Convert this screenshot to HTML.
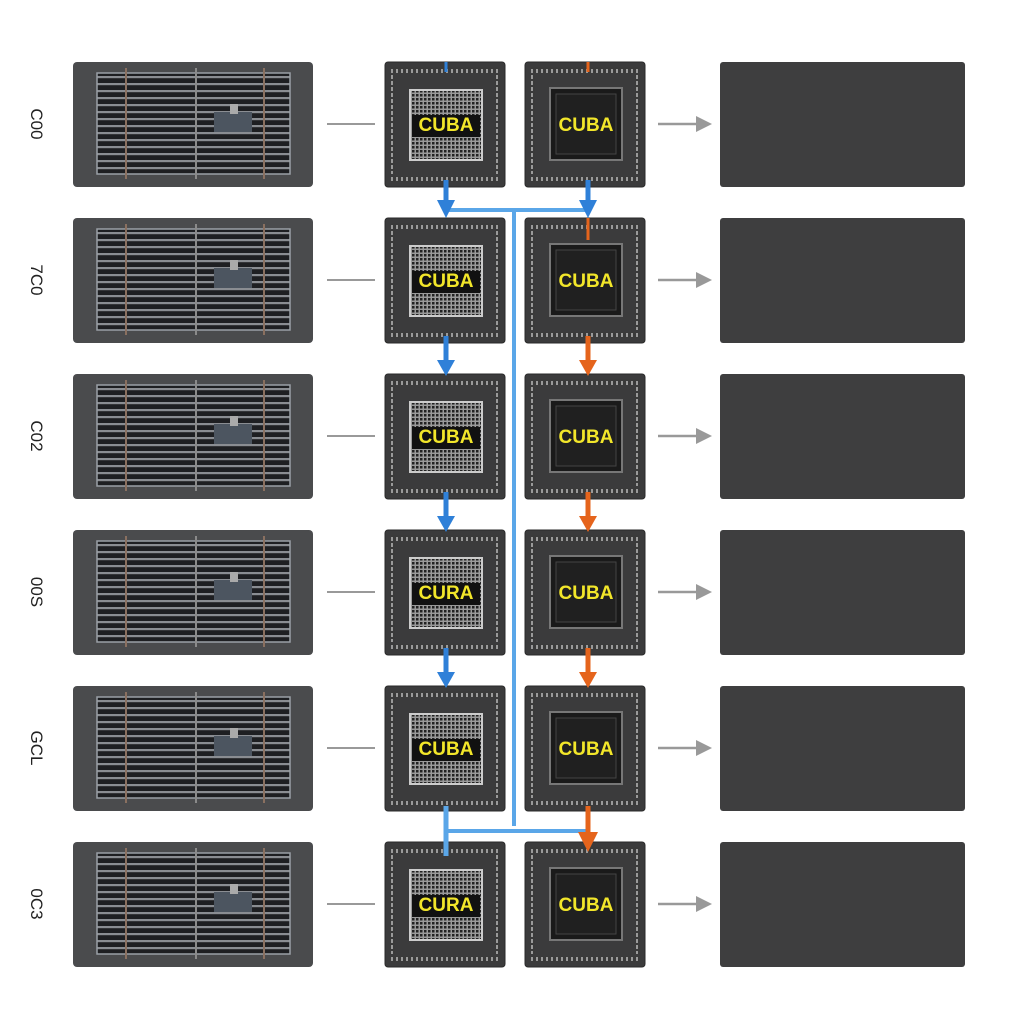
<!DOCTYPE html>
<html><head><meta charset="utf-8"><style>
html,body{margin:0;padding:0;background:#fff;}
svg{display:block}
.lbl{font-family:"Liberation Sans",sans-serif;font-size:17px;fill:#222;}
.cu{font-family:"Liberation Sans",sans-serif;font-weight:bold;font-size:19px;fill:#f2e62a;}
</style></head><body>
<svg width="1024" height="1024" viewBox="0 0 1024 1024" xmlns="http://www.w3.org/2000/svg">
<defs>
  <pattern id="grate" x="0" y="0" width="10" height="7" patternUnits="userSpaceOnUse">
    <rect width="10" height="7" fill="#1e1f22"/>
    <rect y="0" width="10" height="2.2" fill="#8a8d92"/>
  </pattern>
  <pattern id="mesh" x="0" y="0" width="4" height="4" patternUnits="userSpaceOnUse">
    <rect width="4" height="4" fill="#9a9a9a"/>
    <rect width="2.5" height="2.5" fill="#222"/>
  </pattern>
  <pattern id="pins" x="0" y="0" width="5" height="6" patternUnits="userSpaceOnUse">
    <rect width="5" height="6" fill="#3a3a3a"/>
    <rect x="1" y="1" width="2" height="4" fill="#9a9a9a"/>
  </pattern>
  <g id="panel">
    <rect x="73" y="0" width="240" height="125" rx="4" fill="#4a4b4d"/>
    <rect x="97" y="11" width="193" height="101" fill="url(#grate)" stroke="#9aa0a6" stroke-width="1.5"/>
    <line x1="126" y1="6" x2="126" y2="117" stroke="#8a7060" stroke-width="2"/>
    <line x1="196" y1="6" x2="196" y2="117" stroke="#8a8a8a" stroke-width="2"/>
    <line x1="264" y1="6" x2="264" y2="117" stroke="#8a7060" stroke-width="2"/>
    <rect x="214" y="50" width="38" height="20" fill="#4c5560"/>
    <rect x="230" y="42" width="8" height="10" fill="#aaa"/>
  </g>
  <g id="chipA">
    <rect x="385" y="0" width="120" height="125" rx="3" fill="#3b3b3c" stroke="#2a2a2a"/>
    <rect x="391" y="5" width="108" height="6" fill="url(#pins)"/>
    <rect x="391" y="114" width="108" height="6" fill="url(#pins)"/>
    <rect x="390" y="12" width="5" height="100" fill="url(#pins)"/>
    <rect x="495" y="12" width="5" height="100" fill="url(#pins)"/>
    <rect x="410" y="28" width="72" height="70" fill="url(#mesh)" stroke="#ccc" stroke-width="2"/>
    <rect x="412" y="53" width="68" height="22" fill="#111"/>
  </g>
  <g id="chipB">
    <rect x="525" y="0" width="120" height="125" rx="3" fill="#3b3b3c" stroke="#2a2a2a"/>
    <rect x="531" y="5" width="108" height="6" fill="url(#pins)"/>
    <rect x="531" y="114" width="108" height="6" fill="url(#pins)"/>
    <rect x="530" y="12" width="5" height="100" fill="url(#pins)"/>
    <rect x="635" y="12" width="5" height="100" fill="url(#pins)"/>
    <rect x="550" y="26" width="72" height="72" fill="#1a1a1a" stroke="#777" stroke-width="2"/>
    <rect x="556" y="32" width="60" height="60" fill="#202020" stroke="#444" stroke-width="1"/>
  </g>
  <g id="rest">
    <line x1="327" y1="62" x2="375" y2="62" stroke="#999" stroke-width="2"/>
    <line x1="658" y1="62" x2="698" y2="62" stroke="#999" stroke-width="2.5"/>
    <polygon points="696,54 712,62 696,70" fill="#999"/>
    <rect x="720" y="0" width="245" height="125" rx="3" fill="#3e3e3f"/>
  </g>
  <marker id="ab" markerWidth="4" markerHeight="4" refX="2" refY="2" orient="auto"><path d="M0,0 L4,2 L0,4z" fill="#2f80d8"/></marker>
</defs>

<!-- rows -->
<g transform="translate(0,62)"><use href="#panel"/><use href="#chipA"/><use href="#chipB"/><use href="#rest"/></g>
<g transform="translate(0,218)"><use href="#panel"/><use href="#chipA"/><use href="#chipB"/><use href="#rest"/></g>
<g transform="translate(0,374)"><use href="#panel"/><use href="#chipA"/><use href="#chipB"/><use href="#rest"/></g>
<g transform="translate(0,530)"><use href="#panel"/><use href="#chipA"/><use href="#chipB"/><use href="#rest"/></g>
<g transform="translate(0,686)"><use href="#panel"/><use href="#chipA"/><use href="#chipB"/><use href="#rest"/></g>
<g transform="translate(0,842)"><use href="#panel"/><use href="#chipA"/><use href="#chipB"/><use href="#rest"/></g>

<!-- labels -->
<text class="lbl" transform="translate(31,124) rotate(90)" text-anchor="middle">C00</text>
<text class="lbl" transform="translate(31,280) rotate(90)" text-anchor="middle">7C0</text>
<text class="lbl" transform="translate(31,436) rotate(90)" text-anchor="middle">C02</text>
<text class="lbl" transform="translate(31,592) rotate(90)" text-anchor="middle">00S</text>
<text class="lbl" transform="translate(31,748) rotate(90)" text-anchor="middle">GCL</text>
<text class="lbl" transform="translate(31,904) rotate(90)" text-anchor="middle">0C3</text>

<!-- chip text -->
<g text-anchor="middle">
<text class="cu" x="446" y="131">CUBA</text><text class="cu" x="586" y="131">CUBA</text>
<text class="cu" x="446" y="287">CUBA</text><text class="cu" x="586" y="287">CUBA</text>
<text class="cu" x="446" y="443">CUBA</text><text class="cu" x="586" y="443">CUBA</text>
<text class="cu" x="446" y="599">CURA</text><text class="cu" x="586" y="599">CUBA</text>
<text class="cu" x="446" y="755">CUBA</text><text class="cu" x="586" y="755">CUBA</text>
<text class="cu" x="446" y="911">CURA</text><text class="cu" x="586" y="911">CUBA</text>
</g>

<!-- connectors -->
<g stroke-width="5" fill="none">
  <!-- top bus -->
  <line x1="446" y1="62" x2="446" y2="72" stroke="#2f80d8" stroke-width="3"/>
  <line x1="588" y1="62" x2="588" y2="72" stroke="#e5641c" stroke-width="3"/>
  <line x1="446" y1="180" x2="446" y2="212" stroke="#2f80d8"/>
  <line x1="588" y1="180" x2="588" y2="212" stroke="#2f80d8"/>
  <line x1="446" y1="210" x2="588" y2="210" stroke="#5aa6e8" stroke-width="4"/>
  <line x1="514" y1="210" x2="514" y2="826" stroke="#5aa6e8" stroke-width="4"/>
  <!-- bottom bus -->
  <line x1="444" y1="831" x2="590" y2="831" stroke="#5aa6e8" stroke-width="4"/>
  <line x1="446" y1="806" x2="446" y2="856" stroke="#5aa6e8" stroke-width="5"/>
  <line x1="588" y1="806" x2="588" y2="842" stroke="#e5641c"/>
  <!-- inter-row -->
  <line x1="446" y1="336" x2="446" y2="364" stroke="#2f80d8"/>
  <line x1="446" y1="492" x2="446" y2="520" stroke="#2f80d8"/>
  <line x1="446" y1="648" x2="446" y2="676" stroke="#2f80d8"/>
  <line x1="588" y1="336" x2="588" y2="364" stroke="#e5641c"/>
  <line x1="588" y1="492" x2="588" y2="520" stroke="#e5641c"/>
  <line x1="588" y1="648" x2="588" y2="676" stroke="#e5641c"/>
  <line x1="588" y1="218" x2="588" y2="240" stroke="#e5641c" stroke-width="3"/>
</g>
<g>
  <polygon points="437,200 455,200 446,218" fill="#2f80d8"/>
  <polygon points="579,200 597,200 588,218" fill="#2f80d8"/>
  <polygon points="437,360 455,360 446,376" fill="#2f80d8"/>
  <polygon points="437,516 455,516 446,532" fill="#2f80d8"/>
  <polygon points="437,672 455,672 446,688" fill="#2f80d8"/>
  <polygon points="579,360 597,360 588,376" fill="#e5641c"/>
  <polygon points="579,516 597,516 588,532" fill="#e5641c"/>
  <polygon points="579,672 597,672 588,688" fill="#e5641c"/>
  <polygon points="578,832 598,832 588,852" fill="#e5641c"/>
</g>
</svg>
</body></html>
